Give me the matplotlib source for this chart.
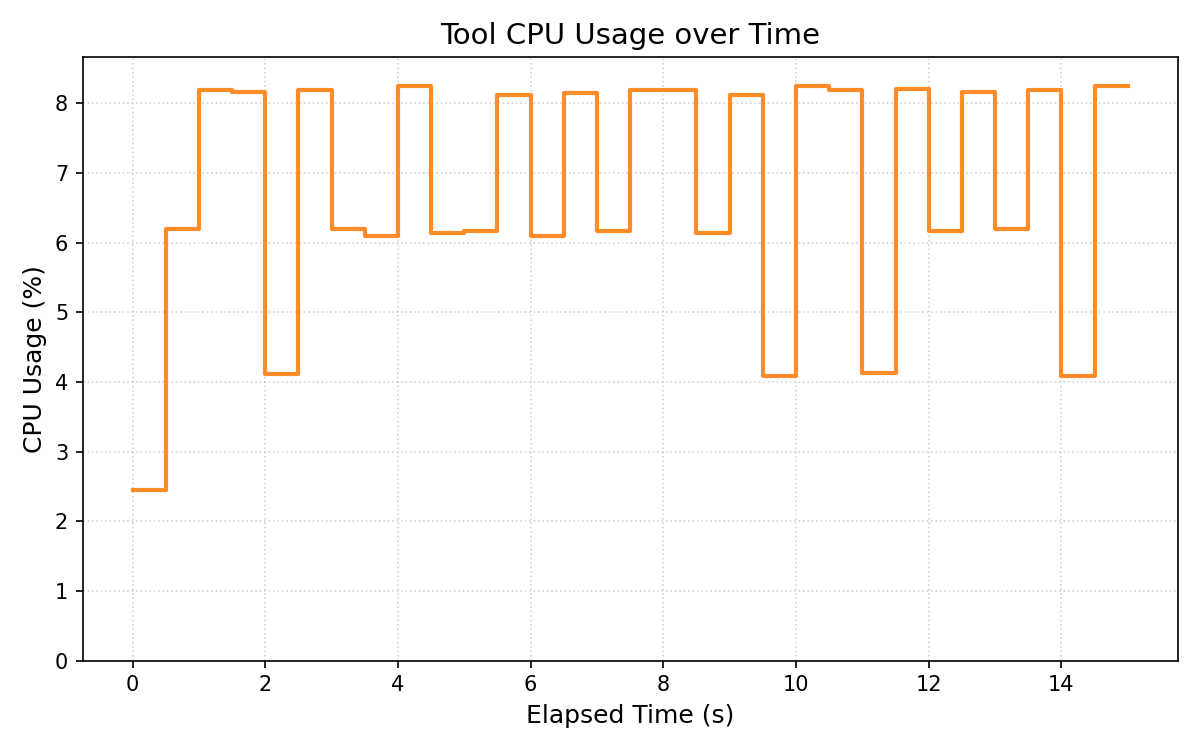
import numpy as np
import matplotlib
matplotlib.use("Agg")
import matplotlib.pyplot as plt

# sampled every 0.5 s
elapsed = [0.0, 0.5, 1.0, 1.5, 2.0, 2.5, 3.0, 3.5, 4.0, 4.5,
           5.0, 5.5, 6.0, 6.5, 7.0, 7.5, 8.0, 8.5, 9.0, 9.5,
           10.0, 10.5, 11.0, 11.5, 12.0, 12.5, 13.0, 13.5, 14.0, 14.5, 15.0]
cpu_pct = [2.45, 6.19, 8.19, 8.16, 4.11, 8.19, 6.19, 6.09, 8.24, 6.14,
           6.16, 8.12, 6.10, 8.15, 6.16, 8.19, 8.19, 6.14, 8.12, 4.08,
           8.25, 8.19, 4.13, 8.21, 6.16, 8.16, 6.19, 8.19, 4.08, 8.24, 8.24]

fig, ax = plt.subplots(figsize=(8, 5), dpi=150)
ax.step(elapsed, cpu_pct, where='post', color='#ff8c28', linewidth=2)
ax.set_ylim(0, max(cpu_pct) * 1.05)
ax.grid(True, linestyle=':', color='#c0c0c0', alpha=0.7)
ax.set_title('Tool CPU Usage over Time', fontsize=14)
ax.set_xlabel('Elapsed Time (s)', fontsize=12)
ax.set_ylabel('CPU Usage (%)', fontsize=12)
fig.tight_layout()
fig.savefig('out.png', dpi=150)
